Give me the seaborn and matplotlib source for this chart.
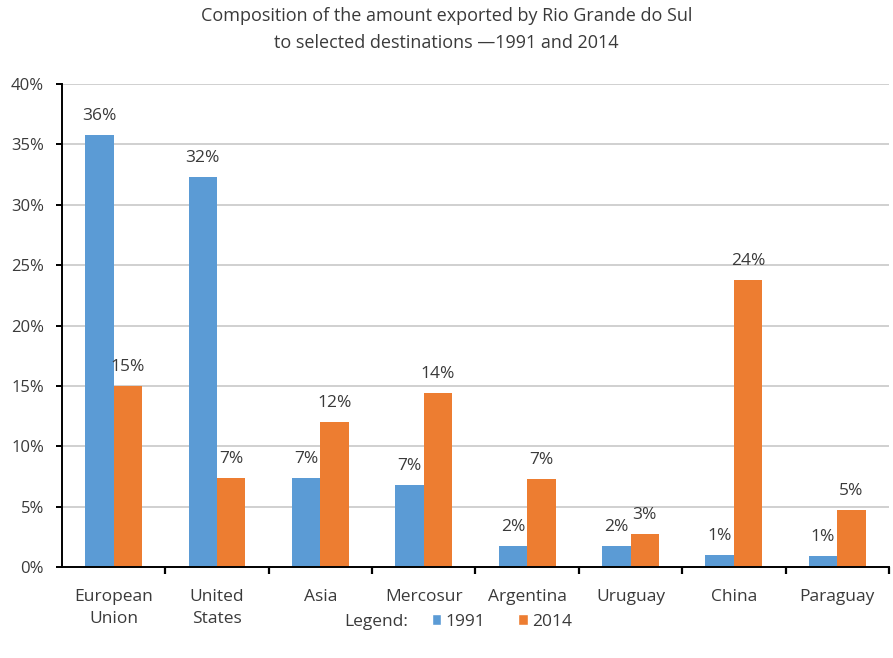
import matplotlib
matplotlib.use("Agg")
import matplotlib.pyplot as plt
import seaborn as sns
import pandas as pd
from matplotlib.patches import Patch
from matplotlib.ticker import FuncFormatter, FixedLocator

categories = ["European\nUnion", "United\nStates", "Asia", "Mercosur", "Argentina", "Uruguay", "China", "Paraguay"]
values_1991 = [35.8, 32.3, 7.4, 6.8, 1.7, 1.7, 1.0, 0.9]
values_2014 = [15.0, 7.4, 12.0, 14.4, 7.3, 2.7, 23.8, 4.7]
years = ["1991", "2014"]
colors = {"1991": "#5B9BD5", "2014": "#ED7D31"}

df = pd.DataFrame({
    "destination": categories * 2,
    "year": [years[0]] * len(categories) + [years[1]] * len(categories),
    "share": values_1991 + values_2014,
})

sns.set_theme(style="white")
plt.rcParams["font.family"] = ["Open Sans", "DejaVu Sans"]

TXT = "#3a3a3a"
fig = plt.figure(figsize=(8.93, 6.58), dpi=100)
ax = fig.add_axes([0.0694, 0.1383, 0.9261, 0.734])

sns.barplot(data=df, x="destination", y="share", hue="year", palette=colors,
            width=0.55, ax=ax, legend=False, saturation=1, linewidth=0)

for cont in ax.containers:
    vals = [b.get_height() for b in cont]
    ax.bar_label(cont, labels=[f"{round(v)}%" for v in vals], padding=8,
                 fontsize=12.5, color=TXT)

ax.set_ylim(0, 40)
ax.set_xlim(-0.5, len(categories) - 0.5)
ax.set_yticks(range(0, 41, 5))
ax.yaxis.set_major_formatter(FuncFormatter(lambda v, p: f"{int(v)}%"))
ax.yaxis.grid(True, color="#c8c8c8", linewidth=1.2)
ax.set_axisbelow(True)
ax.set_xlabel("")
ax.set_ylabel("")

for s in ["top", "right"]:
    ax.spines[s].set_visible(False)
for s in ["left", "bottom"]:
    ax.spines[s].set_color("black")
    ax.spines[s].set_linewidth(1.4)

ax.tick_params(axis="y", which="major", left=True, length=4, width=1.4, color="black",
               labelsize=12, labelcolor=TXT, pad=9)
ax.tick_params(axis="x", which="major", bottom=False, labelsize=12.5, labelcolor=TXT, pad=10)
for lab in ax.get_xticklabels():
    lab.set_linespacing(1.45)
ax.xaxis.set_minor_locator(FixedLocator([i + 0.5 for i in range(len(categories))]))
ax.tick_params(axis="x", which="minor", bottom=True, length=5, width=1.6, color="black")

fig.text(0.5, 0.976, "Composition of the amount exported by Rio Grande do Sul",
         ha="center", va="center", fontsize=13, color=TXT)
fig.text(0.5, 0.934, "to selected destinations \u20141991 and 2014",
         ha="center", va="center", fontsize=13, color=TXT)

fig.text(0.421, 0.055, "Legend:", ha="center", va="center", fontsize=12.5, color=TXT)
handles = [Patch(facecolor=colors[y], label=y) for y in years]
fig.legend(handles=handles, loc="center left", bbox_to_anchor=(0.466, 0.055), ncol=2,
           frameon=False, fontsize=12.5, handlelength=0.55, handleheight=0.55,
           handletextpad=0.25, columnspacing=1.9, labelcolor=TXT)

fig.savefig("out.png", dpi=100, facecolor="white")
